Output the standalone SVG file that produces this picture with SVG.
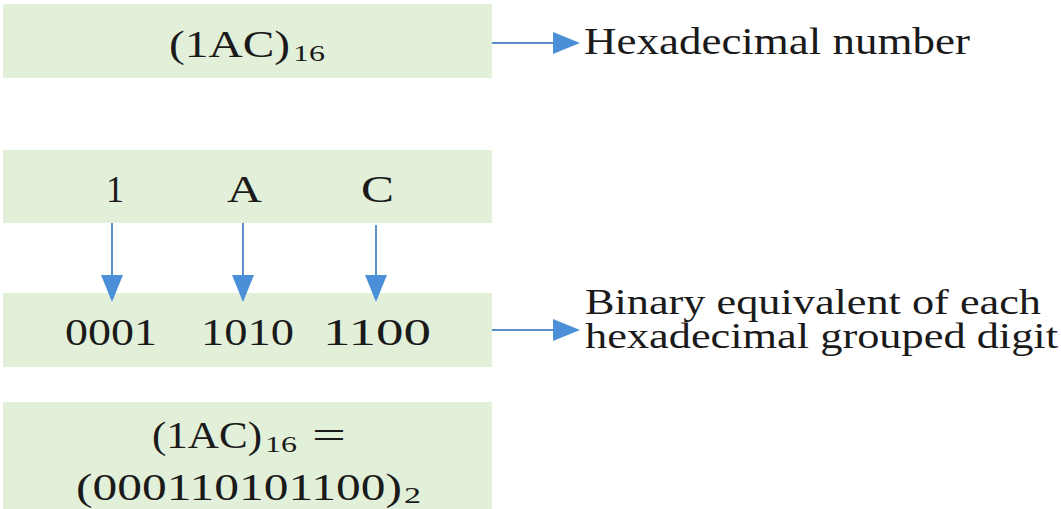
<svg xmlns="http://www.w3.org/2000/svg" width="1061" height="509" viewBox="0 0 1061 509">
<style>
.box{fill:#E2EFD9}
.t{font-family:"Liberation Serif","Times New Roman",serif;font-size:38px;fill:#1a1a1a}
.s{font-size:23px}
.lb{font-size:36px}
.ln{stroke:#5B8FCC;stroke-width:2;fill:none}
</style>
<defs>
<marker id="ah" viewBox="0 0 27 22" refX="0" refY="11" markerWidth="27" markerHeight="22" markerUnits="userSpaceOnUse" orient="auto">
<path d="M0,0 L27,11 L0,22 Z" fill="#4A8FD8"/>
</marker>
</defs>
<rect width="1061" height="509" fill="#ffffff"/>
<g id="hex-box">
<rect class="box" x="3" y="4" width="489" height="74"/>
<text class="t" x="169" y="57" textLength="121" lengthAdjust="spacingAndGlyphs">(1AC)</text>
<text class="t s" x="293" y="61" textLength="32" lengthAdjust="spacingAndGlyphs">16</text>
</g>
<g id="hex-label">
<text class="t" x="584" y="54" textLength="386" lengthAdjust="spacingAndGlyphs">Hexadecimal number</text>
</g>
<g id="digits-box">
<rect class="box" x="3" y="150" width="489" height="73"/>
<text class="t" x="106" y="202" textLength="18" lengthAdjust="spacingAndGlyphs">1</text>
<text class="t" x="227" y="202" textLength="35" lengthAdjust="spacingAndGlyphs">A</text>
<text class="t" x="361" y="202" textLength="33" lengthAdjust="spacingAndGlyphs">C</text>
</g>
<g id="binary-box">
<rect class="box" x="3" y="293" width="489" height="74"/>
<text class="t" x="65" y="345" textLength="92" lengthAdjust="spacingAndGlyphs">0001</text>
<text class="t" x="201" y="345" textLength="93" lengthAdjust="spacingAndGlyphs">1010</text>
<text class="t" x="323" y="345" textLength="108" lengthAdjust="spacingAndGlyphs">1100</text>
</g>
<g id="binary-label">
<text class="t lb" x="585" y="314" textLength="456" lengthAdjust="spacingAndGlyphs">Binary equivalent of each</text>
<text class="t lb" x="585" y="348" textLength="473" lengthAdjust="spacingAndGlyphs">hexadecimal grouped digit</text>
</g>
<g id="result-box">
<rect class="box" x="3" y="402" width="489" height="107"/>
<text class="t" x="152" y="448" textLength="110" lengthAdjust="spacingAndGlyphs">(1AC)</text>
<text class="t s" x="265" y="452" textLength="32" lengthAdjust="spacingAndGlyphs">16</text>
<text class="t" x="312" y="448" textLength="34" lengthAdjust="spacingAndGlyphs">=</text>
<text class="t" x="76" y="500" textLength="326" lengthAdjust="spacingAndGlyphs">(000110101100)</text>
<text class="t s" x="404" y="503" textLength="17" lengthAdjust="spacingAndGlyphs">2</text>
</g>
<g id="connectors">
<line class="ln" x1="492" y1="43" x2="553" y2="43" marker-end="url(#ah)"/>
<line class="ln" x1="492" y1="330" x2="553" y2="330" marker-end="url(#ah)"/>
<line class="ln" x1="112" y1="223" x2="112" y2="275" marker-end="url(#ah)"/>
<line class="ln" x1="243" y1="223" x2="243" y2="275" marker-end="url(#ah)"/>
<line class="ln" x1="376" y1="225" x2="376" y2="275" marker-end="url(#ah)"/>
</g>
</svg>
